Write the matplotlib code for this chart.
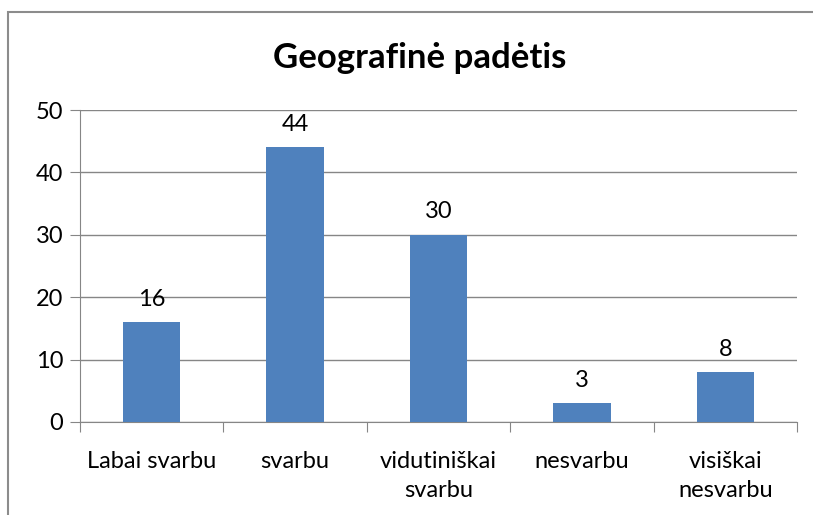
import matplotlib.pyplot as plt
from matplotlib.patches import Rectangle

categories = ["Labai svarbu", "svarbu", "vidutiniškai\nsvarbu", "nesvarbu", "visiškai\nnesvarbu"]
values = [16, 44, 30, 3, 8]
y_ticks = [0, 10, 20, 30, 40, 50]

plt.rcParams['font.family'] = ['Lato', 'DejaVu Sans']

fig = plt.figure(figsize=(8.13, 5.15), dpi=100)
ax = fig.add_axes([0.0984, 0.1806, 0.8819, 0.6058])

# chart frame (clipped at right and bottom like the reference)
fig.patches.append(Rectangle((8 / 813, -0.1), 1.2, 1 - 12 / 515 + 0.1,
                             transform=fig.transFigure, fill=False,
                             edgecolor='#8c8c8c', linewidth=1.5))

x = range(len(values))
ax.bar(x, values, width=0.4, color='#4F81BD', zorder=3)
for i, v in zip(x, values):
    ax.text(i, v + 2.0, str(v), ha='center', va='bottom', fontsize=17)

ax.set_xlim(-0.5, len(values) - 0.5)
ax.set_ylim(0, 50)
ax.set_yticks(y_ticks)
ax.yaxis.grid(True, color='#868686', linewidth=1, zorder=0)
ax.tick_params(axis='y', length=7, color='#868686', labelsize=17, pad=5)

# category labels centred, tick marks at boundaries
ax.set_xticks([i + 0.5 for i in range(-1, len(values))])
ax.set_xticklabels([])
ax.tick_params(axis='x', length=7, color='#868686')
for i, c in enumerate(categories):
    ax.text(i, -4.6, c, ha='center', va='top', fontsize=17, linespacing=1.5)

for s in ['top', 'right']:
    ax.spines[s].set_visible(False)
for s in ['left', 'bottom']:
    ax.spines[s].set_color('#868686')

fig.text(420 / 813, 1 - 58 / 515, "Geografinė padėtis", ha='center', va='center',
         fontsize=25, fontweight='bold')

fig.savefig('out.png', dpi=100)
